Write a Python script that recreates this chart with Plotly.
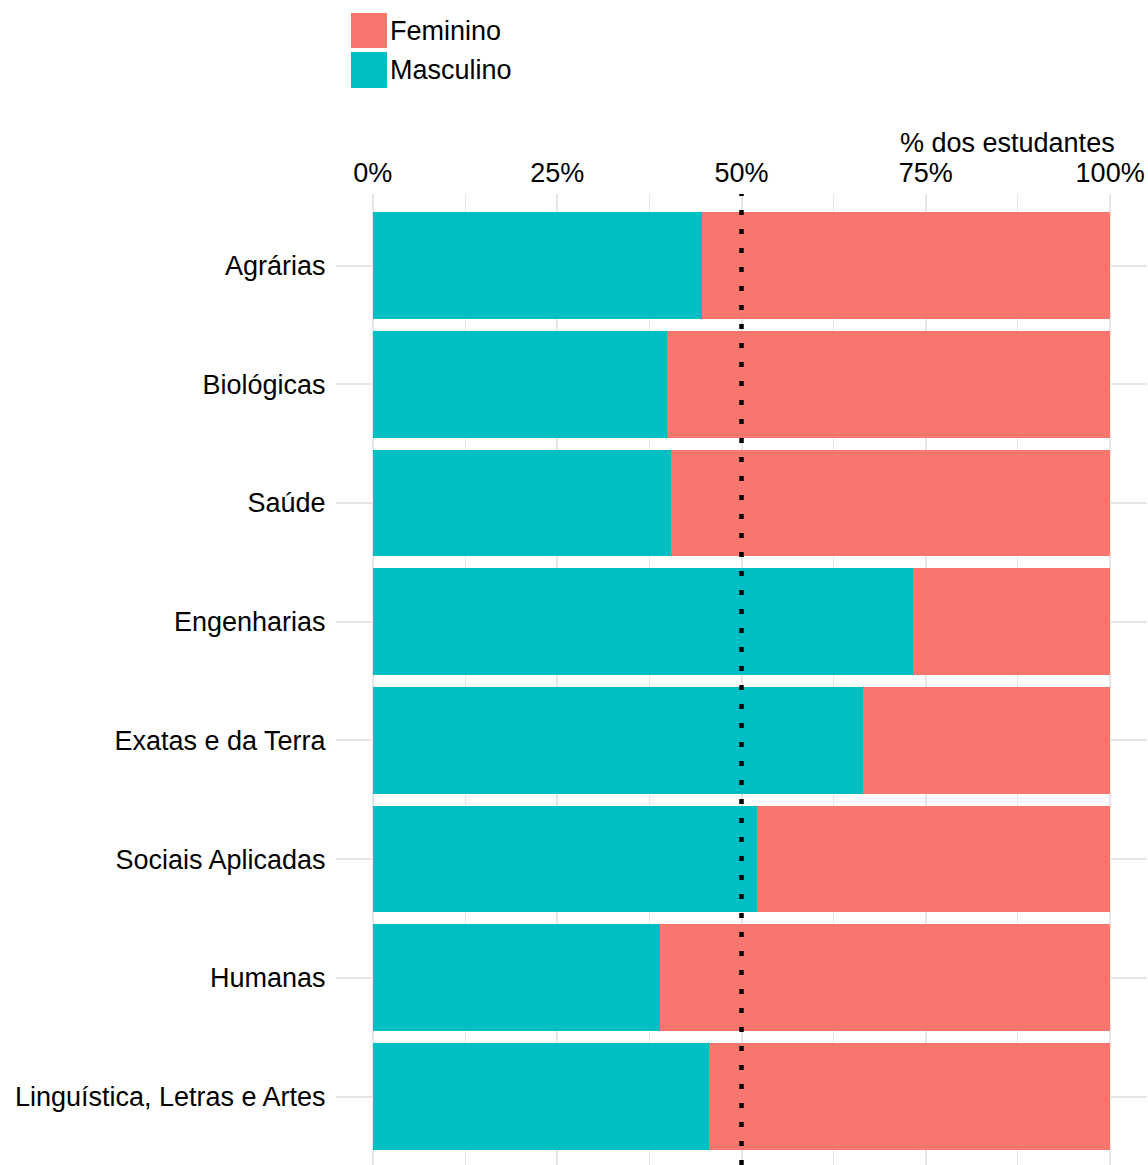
import plotly.graph_objects as go

categorias = ["Agrárias", "Biológicas", "Saúde", "Engenharias", "Exatas e da Terra",
              "Sociais Aplicadas", "Humanas", "Linguística, Letras e Artes"]
masculino = [44.6, 39.9, 40.4, 73.3, 66.5, 52.1, 38.9, 45.6]
feminino = [round(100 - m, 1) for m in masculino]
x_ticks = [0, 25, 50, 75, 100]
x_tick_labels = ["0%", "25%", "50%", "75%", "100%"]

COL_F = "#F8766D"
COL_M = "#00BFC4"
FONT = "Liberation Sans, Arial, sans-serif"
FS = 27

OFF = 0  # body margin removed via post_script
W, H = 1148, 1165
L, R, T, B = 336, 1, 194, 0
PW = W - L - R
PH = H - T - B

# vertical scale: first category centre at 265.5 px, last at 1096.5 px (page coords)
n = len(categorias)
step = (1096.5 - 265.5) / (n - 1)
panel_top = OFF + T
panel_bot = OFF + H - B
y_top = -(265.5 - panel_top) / step
y_bot = (n - 1) + (panel_bot - 1096.5) / step

def px(x):
    return (x - OFF - L) / PW

def py(y):
    return (H - B - (y - OFF)) / PH

fig = go.Figure()
fig.add_trace(go.Bar(y=categorias, x=masculino, name="Masculino", orientation="h",
                     marker=dict(color=COL_M, line=dict(width=0)), width=0.9, showlegend=False))
fig.add_trace(go.Bar(y=categorias, x=feminino, name="Feminino", orientation="h",
                     marker=dict(color=COL_F, line=dict(width=0)), width=0.9, showlegend=False))

shapes = [
    dict(type="line", xref="x", yref="paper", x0=50, x1=50, y0=0, y1=1,
         line=dict(color="black", width=4.5, dash="5px,14px"), layer="above"),
    dict(type="rect", xref="paper", yref="paper", x0=px(351), x1=px(387), y0=py(48), y1=py(13),
         fillcolor=COL_F, line=dict(width=0)),
    dict(type="rect", xref="paper", yref="paper", x0=px(351), x1=px(387), y0=py(88), y1=py(52),
         fillcolor=COL_M, line=dict(width=0)),
]
annotations = [
    dict(xref="paper", yref="paper", x=px(388), y=py(31), text="Feminino", showarrow=False,
         xanchor="left", yanchor="middle", font=dict(size=FS, color="black", family=FONT)),
    dict(xref="paper", yref="paper", x=px(388), y=py(70), text="Masculino", showarrow=False,
         xanchor="left", yanchor="middle", font=dict(size=FS, color="black", family=FONT)),
    dict(xref="paper", yref="paper", x=px(1117), y=py(143), text="% dos estudantes", showarrow=False,
         xanchor="right", yanchor="middle", font=dict(size=FS, color="black", family=FONT)),
]

GRID = "#E6E6E6"
fig.update_layout(
    width=W, height=H,
    margin=dict(l=L, r=R, t=T, b=B, pad=0),
    barmode="stack", bargap=0.1,
    plot_bgcolor="white", paper_bgcolor="white",
    font=dict(family=FONT, size=FS, color="black"),
    shapes=shapes, annotations=annotations,
    showlegend=False,
    xaxis=dict(side="top", range=[-5, 105], tickvals=x_ticks, ticktext=x_tick_labels,
               showgrid=True, gridcolor=GRID, gridwidth=1.5, zeroline=False,
               ticks="outside", ticklen=0, tickcolor="rgba(0,0,0,0)",
               tickfont=dict(size=FS, color="black", family=FONT),
               minor=dict(tickvals=[12.5, 37.5, 62.5, 87.5], showgrid=True,
                          gridcolor=GRID, gridwidth=1.2),
               showline=False, fixedrange=True),
    yaxis=dict(categoryorder="array", categoryarray=categorias, range=[y_bot, y_top],
               showgrid=True, gridcolor=GRID, gridwidth=1.5, zeroline=False,
               ticks="outside", ticklen=4, tickcolor="rgba(0,0,0,0)",
               tickfont=dict(size=FS, color="black", family=FONT),
               showline=False, fixedrange=True),
)

fig.write_html(
    "out.html",
    config={"displayModeBar": False},
    post_script="document.body.style.margin='0';"
                "document.body.style.overflow='hidden';"
                "document.documentElement.style.overflow='hidden';",
)
